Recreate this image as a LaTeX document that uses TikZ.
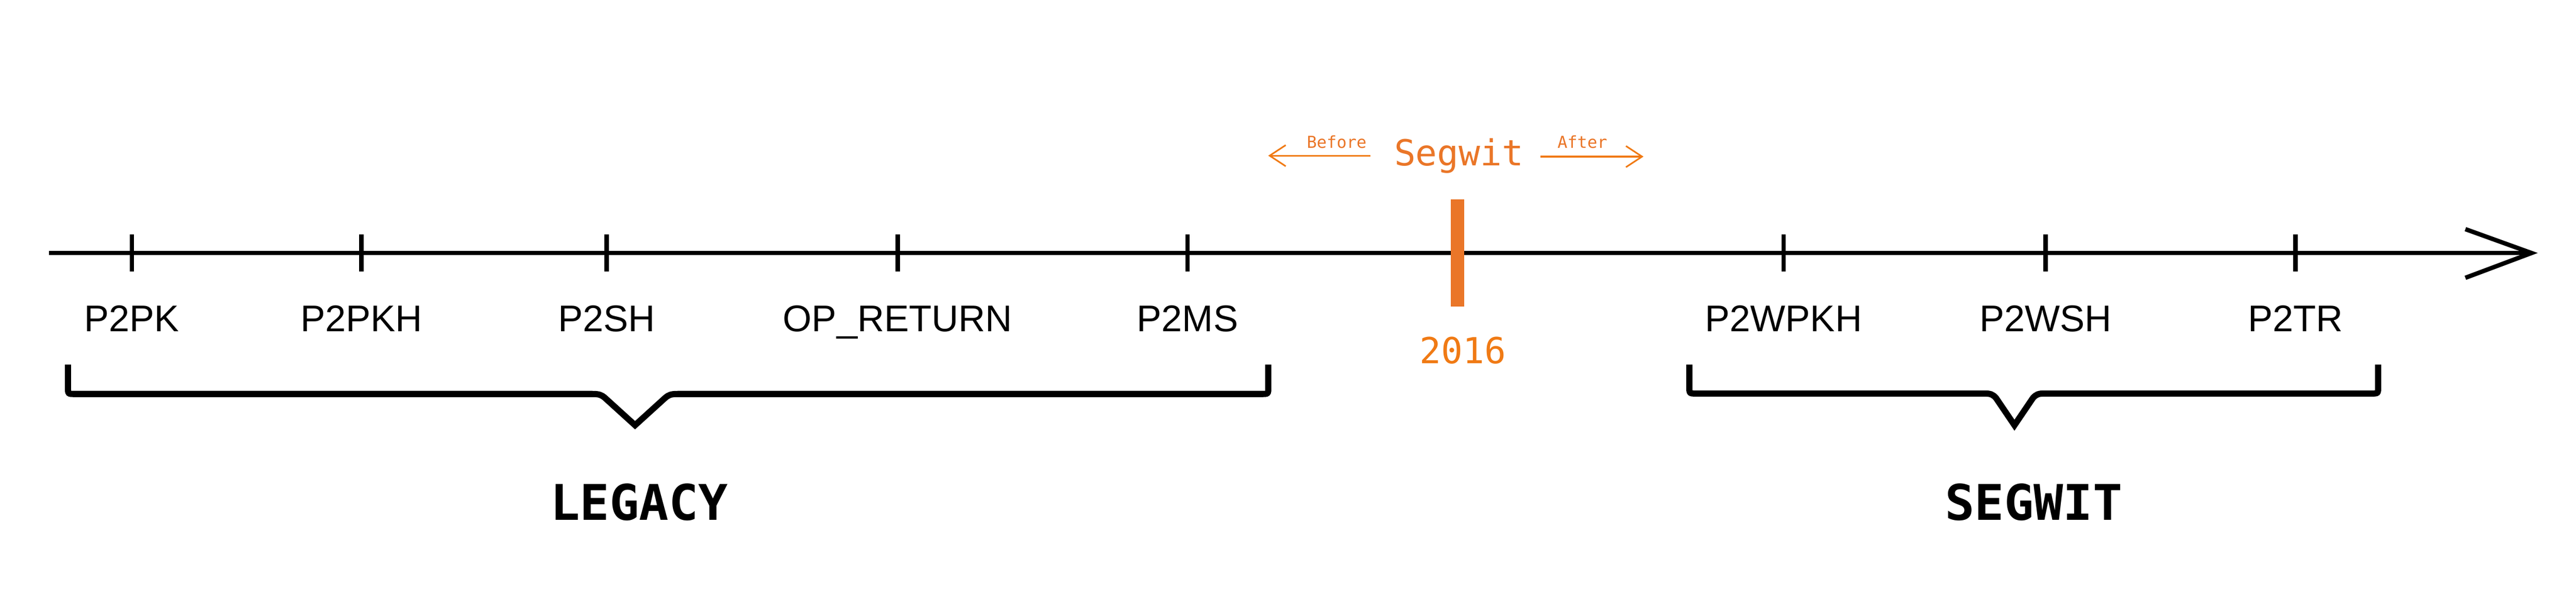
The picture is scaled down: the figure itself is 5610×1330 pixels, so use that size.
\documentclass[tikz,border=0pt]{standalone}
\usepackage{fontspec}
\setmainfont{Liberation Sans}
\newfontfamily\techfont{DejaVu Sans Mono}
\definecolor{segorange}{RGB}{234,118,40}
\definecolor{arrorange}{RGB}{240,122,20}
\begin{document}
\begin{tikzpicture}[x=0.1bp,y=-0.1bp,
  axisline/.style={line width=0.95bp,black},
  tickmark/.style={line width=0.95bp,black},
  typelabel/.style={anchor=base,inner sep=0pt,font=\fontsize{8.1bp}{9bp}\selectfont},
  bracketline/.style={line width=1.35bp,black,line join=miter,miter limit=10},
  grouplabel/.style={anchor=base,inner sep=0pt,font=\techfont\bfseries\fontsize{10.7bp}{12bp}\selectfont},
  smallarrow/.style={line width=0.35bp,arrorange},
  smalltext/.style={anchor=base,inner sep=0pt,text=segorange,font=\techfont\fontsize{3.6bp}{4bp}\selectfont}]
\useasboundingbox (0,0) rectangle (5610,1330);
% axis
\coordinate (axL) at (107,551);
\coordinate (axR) at (5505,551);
\coordinate (tipA) at (5369,499);
\coordinate (tip) at (5513,551);
\coordinate (tipB) at (5369,605);
\draw[axisline] (axL) -- (axR);
\draw[axisline,line join=miter,miter limit=20] (tipA) -- (tip) -- (tipB);
% ticks and labels
\foreach \name/\x/\txt in {pk/287/P2PK, pkh/787/P2PKH, sh/1321/P2SH, opr/1955/OP\_RETURN, ms/2586/P2MS, wpkh/3884/P2WPKH, wsh/4455/P2WSH, tr/4999/P2TR}{
  \coordinate (t\name) at (\x,551);
  \draw[tickmark] (\x,511) -- (\x,591);
  \node[typelabel] (l\name) at (\x,722) {\txt};
}
% segwit marker
\coordinate (barTop) at (3174,434);
\coordinate (barBot) at (3174,668);
\draw[segorange,line width=3bp] (barTop) -- (barBot);
\node[anchor=base,inner sep=0pt,text=arrorange,font=\techfont\fontsize{7.8bp}{9bp}\selectfont] (year) at (3186,792) {2016};
\node[anchor=base,inner sep=0pt,text=segorange,font=\techfont\fontsize{7.8bp}{9bp}\selectfont] (segw) at (3177,361) {Segwit};
\node[smalltext] (before) at (2911,322) {Before};
\node[smalltext] (after) at (3446,322) {After};
% small arrows
\coordinate (bL1) at (2985,339);
\coordinate (bL2) at (2765,339);
\coordinate (bLa) at (2800,316);
\coordinate (bLb) at (2800,362);
\draw[smallarrow] (bL1) -- (bL2);
\draw[smallarrow,line join=miter] (bLa) -- (bL2) -- (bLb);
\coordinate (aR1) at (3355,341);
\coordinate (aR2) at (3576,341);
\coordinate (aRa) at (3541,318);
\coordinate (aRb) at (3541,364);
\draw[smallarrow] (aR1) -- (aR2);
\draw[smallarrow,line join=miter] (aRa) -- (aR2) -- (aRb);
% legacy bracket
\draw[bracketline] (148,794) -- (148,843) .. controls (148,858) .. (163,858)
  -- (1290,858) .. controls (1305,858) and (1310,860) .. (1318,867)
  -- (1383,926) -- (1448,867) .. controls (1456,860) and (1461,858) .. (1476,858)
  -- (2747,858) .. controls (2762,858) .. (2762,843) -- (2762,794);
\node[grouplabel] (legacy) at (1392,1133) {LEGACY};
% segwit bracket
\draw[bracketline] (3679,794) -- (3679,842) .. controls (3679,857) .. (3694,857)
  -- (4322,857) .. controls (4335,857) and (4340,859) .. (4347,867)
  -- (4387,926) -- (4427,867) .. controls (4434,859) and (4439,857) .. (4452,857)
  -- (5164,857) .. controls (5179,857) .. (5179,842) -- (5179,794);
\node[grouplabel] (segwitlbl) at (4429,1133) {SEGWIT};
\end{tikzpicture}
\end{document}
